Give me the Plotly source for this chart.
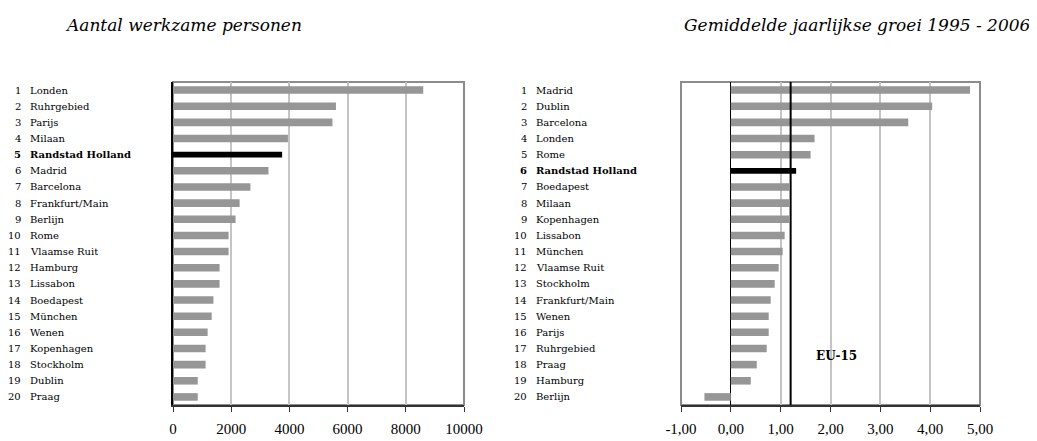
"""Twee staafdiagrammen: werkzame personen en groei per regio."""

import plotly.graph_objects as go
from plotly.subplots import make_subplots

W, H = 1037, 441
PAGE_OFFSET = 8  # body margin of the html page
SERIF = "DejaVu Serif, Liberation Serif, serif"
TICK_SERIF = "Liberation Serif, Times New Roman, serif"
BAR_GREY = "#969696"
HIGHLIGHT = "Randstad Holland"

# --- data: aantal werkzame personen (x 1000) ---
emp_regions = [
    "Londen", "Ruhrgebied", "Parijs", "Milaan", "Randstad Holland",
    "Madrid", "Barcelona", "Frankfurt/Main", "Berlijn", "Rome",
    "Vlaamse Ruit", "Hamburg", "Lissabon", "Boedapest", "München",
    "Wenen", "Kopenhagen", "Stockholm", "Dublin", "Praag",
]
emp_values = [
    8600, 5600, 5480, 3950, 3750, 3280, 2660, 2290, 2150, 1910,
    1910, 1600, 1600, 1390, 1330, 1190, 1120, 1120, 850, 850,
]
emp_ticks = [0, 2000, 4000, 6000, 8000, 10000]

# --- data: gemiddelde jaarlijkse groei 1995 - 2006 (%) ---
growth_regions = [
    "Madrid", "Dublin", "Barcelona", "Londen", "Rome",
    "Randstad Holland", "Boedapest", "Milaan", "Kopenhagen", "Lissabon",
    "München", "Vlaamse Ruit", "Stockholm", "Frankfurt/Main", "Wenen",
    "Parijs", "Ruhrgebied", "Praag", "Hamburg", "Berlijn",
]
growth_values = [
    4.80, 4.04, 3.56, 1.68, 1.60, 1.31, 1.17, 1.17, 1.17, 1.08,
    1.04, 0.96, 0.88, 0.80, 0.76, 0.76, 0.72, 0.52, 0.40, -0.53,
]
growth_ticks = [-1, 0, 1, 2, 3, 4, 5]
eu15_growth = 1.20


def px_x(px):
    return (px - PAGE_OFFSET) / W


def px_y(py):
    return 1 - (py - PAGE_OFFSET) / H


fig = make_subplots(rows=1, cols=2)

panels = [
    (1, emp_regions, emp_values, "y", 23, 27.5),
    (2, growth_regions, growth_values, "y2", 529, 534),
]

annotations = []
for col, regions, values, yref, rank_x, name_x in panels:
    cats = [f"{i + 1} {r}" for i, r in enumerate(regions)]
    colors = ["#000000" if r == HIGHLIGHT else BAR_GREY for r in regions]
    widths = [0.36 if r == HIGHLIGHT else 0.47 for r in regions]
    fig.add_trace(
        go.Bar(
            x=values,
            y=cats,
            orientation="h",
            marker=dict(color=colors, line=dict(width=0)),
            width=widths,
            showlegend=False,
        ),
        row=1,
        col=col,
    )
    for i, (cat, reg) in enumerate(zip(cats, regions)):
        bold = reg == HIGHLIGHT
        rank = f"<b>{i + 1}</b>" if bold else str(i + 1)
        name = f"<b>{reg}</b>" if bold else reg
        common = dict(
            xref="paper", yref=yref, y=cat, showarrow=False,
            font=dict(family=SERIF, size=10, color="#000000"),
        )
        annotations.append(dict(common, x=px_x(rank_x), xanchor="right", text=rank))
        annotations.append(dict(common, x=px_x(name_x), xanchor="left", text=name))

y_dom = [px_y(405), px_y(82)]
axis_font = dict(family=TICK_SERIF, size=15, color="#000000")

common_x = dict(
    tickfont=axis_font,
    showgrid=True,
    gridcolor="#c4c4c4",
    gridwidth=2,
    showline=True,
    linecolor="#333333",
    linewidth=1.5,
    ticks="outside",
    ticklen=5,
    tickcolor="#333333",
    ticklabelstandoff=4,
)

fig.update_layout(
    width=W,
    height=H,
    margin=dict(l=0, r=0, t=0, b=0, autoexpand=False),
    paper_bgcolor="#ffffff",
    plot_bgcolor="#ffffff",
    xaxis=dict(
        common_x,
        domain=[px_x(173), px_x(464)],
        range=[0, 10000],
        tickvals=emp_ticks,
        ticktext=[str(t) for t in emp_ticks],
        zeroline=False,
    ),
    yaxis=dict(
        domain=y_dom,
        autorange="reversed",
        showticklabels=False,
        showgrid=False,
        showline=True,
        linecolor="#000000",
        linewidth=2,
        zeroline=False,
    ),
    xaxis2=dict(
        common_x,
        domain=[px_x(681), px_x(980)],
        range=[-1, 5],
        tickvals=growth_ticks,
        ticktext=[f"{t:.2f}".replace(".", ",") for t in growth_ticks],
        zeroline=True,
        zerolinecolor="#000000",
        zerolinewidth=1,
    ),
    yaxis2=dict(
        domain=y_dom,
        autorange="reversed",
        showticklabels=False,
        showgrid=False,
        zeroline=False,
    ),
)

# grey frame around both plot areas
for xr, yr in [("x", "y"), ("x2", "y2")]:
    fig.add_shape(
        type="rect", xref=f"{xr} domain", yref=f"{yr} domain",
        x0=0, x1=1, y0=0, y1=1, layer="below",
        line=dict(color="#8c8c8c", width=2),
    )

# EU-15 reference line
fig.add_shape(
    type="line", xref="x2", yref="y2 domain",
    x0=eu15_growth, x1=eu15_growth, y0=0, y1=1,
    line=dict(color="#000000", width=2),
)
annotations.append(dict(
    xref="x2", yref="y2", x=2.12, y="18 Praag", yshift=9, showarrow=False,
    text="<b>EU-15</b>", font=dict(family=SERIF, size=12, color="#000000"),
))

title_font = dict(family=SERIF, size=17, color="#000000")
annotations.append(dict(
    xref="paper", yref="paper", x=px_x(63), y=px_y(25), xanchor="left",
    yanchor="middle", showarrow=False,
    text="<i>Aantal werkzame personen</i>", font=title_font,
))
annotations.append(dict(
    xref="paper", yref="paper", x=px_x(1033), y=px_y(25), xanchor="right",
    yanchor="middle", showarrow=False,
    text="<i>Gemiddelde jaarlijkse groei 1995 - 2006</i>", font=title_font,
))

fig.update_layout(annotations=annotations)

fig.write_html("out.html")
